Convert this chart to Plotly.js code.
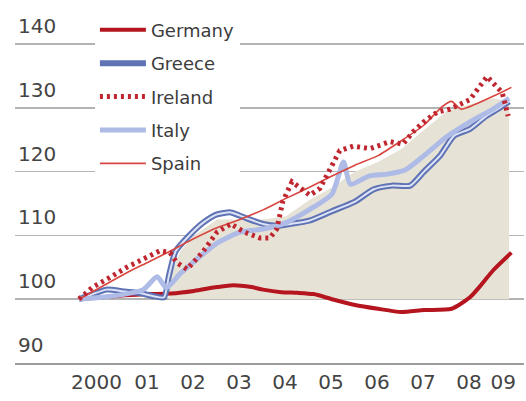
<!DOCTYPE html>
<html>
<head>
<meta charset="utf-8">
<script src="https://cdn.plot.ly/plotly-3.0.1.min.js"></script>
<style>html,body{margin:0;padding:0;background:#fff;}#chart{width:526px;height:401px;}</style>
</head>
<body>
<div id="chart"></div>
<script>
// ---- data (index, 2000 = 100) ----
const germanyX = [2000.0,2000.5,2001.0,2001.5,2002.0,2002.5,2003.0,2003.35,2003.75,2004.0,2004.4,2004.75,2005.1,2005.5,2006.0,2006.5,2007.0,2007.5,2008.1,2008.5,2008.75,2009.0,2009.4];
const germanyY = [100.0,100.3,100.6,100.8,100.9,101.3,101.9,102.2,101.9,101.5,101.1,101.0,100.8,100.0,99.1,98.5,98.0,98.3,98.5,100.3,102.3,104.5,107.3];

const greeceX = [2000.0,2000.3,2000.6,2001.0,2001.3,2001.6,2001.85,2001.95,2002.1,2002.4,2002.7,2003.0,2003.3,2003.6,2004.0,2004.3,2004.6,2005.0,2005.5,2006.0,2006.4,2006.8,2007.2,2007.5,2007.85,2008.15,2008.5,2008.85,2009.1,2009.35];
const greeceY = [100,100.8,101.5,101.2,101.0,100.5,100.3,103.5,107.5,110,112,113.3,113.6,112.8,111.8,111.5,111.8,112.3,113.8,115.3,117.2,117.8,117.8,120,122.5,125.6,126.7,128.7,129.8,131];

const irelandX = [2000.0,2000.3,2000.67,2001.04,2001.54,2001.76,2001.98,2002.13,2002.35,2002.7,2003.0,2003.3,2003.6,2003.93,2004.15,2004.3,2004.43,2004.63,2004.87,2005.02,2005.24,2005.46,2005.67,2005.96,2006.33,2006.76,2007.04,2007.26,2007.48,2007.78,2008.07,2008.5,2008.72,2008.87,2009.0,2009.2,2009.33];
const irelandY = [100,101.9,103.4,105,106.8,107.6,107.3,105.7,104.7,107.5,110.5,111.8,110.5,109.6,109.6,111,115.3,118.4,117.1,116.3,117.4,120.5,123.3,124.0,123.6,124.7,124.3,126.2,127.7,129.3,129.8,131.3,133.3,134.9,133.9,132.4,128.7];

const italyX = [2000.0,2000.5,2001.0,2001.4,2001.7,2001.9,2002.2,2002.6,2003.0,2003.5,2004.0,2004.5,2005.0,2005.5,2005.75,2005.9,2006.3,2006.7,2007.1,2007.5,2008.0,2008.5,2009.0,2009.35];
const italyY = [100,100.3,100.8,101.5,103.5,101.8,104,106.5,108.8,110.5,111,112,114,116.5,121.5,118,119.3,119.6,120.3,122.5,125.5,127.8,129.8,131.5];

const spainX = [2000.0,2000.5,2001.0,2001.5,2002.0,2002.5,2003.0,2003.5,2004.0,2004.5,2005.0,2005.5,2006.0,2006.5,2007.0,2007.5,2007.9,2008.1,2008.3,2008.6,2009.0,2009.4];
const spainY = [100,102,104,105.8,107.6,109.5,111.2,112.5,114,115.8,117.5,119.3,121,122.5,124.8,127.3,130.2,131,129.8,130.5,131.8,133.2];

const shadeX = [2001.95,2002.2,2002.5,2003.0,2003.5,2004.0,2004.5,2005.0,2005.5,2006.0,2006.5,2007.0,2007.5,2008.0,2008.5,2009.0,2009.35];
const shadeTop = [103,107.5,110,112.5,112.5,112.5,113,115.5,117.5,120,121.5,123.5,126.5,129.5,130.5,131.5,131];
const shadeBaseLevel = 100;

const years = [2000,2001,2002,2003,2004,2005,2006,2007,2008,2009];
const yearLabels = ["2000","01","02","03","04","05","06","07","08","09"];
const yTicks = [90,100,110,120,130,140];
const dataEnd = 2009.52;

// ---- styling / layout ----
const FONT = "DejaVu Sans, sans-serif";
const xRange = [1998.609, 2009.674];
const labelPos = years.map((y, i) => i === 0 ? y + 0.38 : (i === years.length - 1 ? y + 0.22 : y + 0.48));

const traces = [
  {x: shadeX, y: shadeX.map(() => shadeBaseLevel), mode: 'lines', line: {width: 0, color: 'rgba(0,0,0,0)'}, showlegend: false, hoverinfo: 'skip'},
  {x: shadeX, y: shadeTop, mode: 'lines', fill: 'tonexty', fillcolor: '#e6e3d6', line: {width: 0, color: 'rgba(0,0,0,0)'}, showlegend: false, hoverinfo: 'skip'},
  {x: germanyX, y: germanyY, name: 'Germany', legendgroup: 'g1', mode: 'lines', line: {color: '#b5151f', width: 4, shape: 'spline', smoothing: 0.6}},
  {x: greeceX, y: greeceY, name: 'Greece', legendgroup: 'g2', mode: 'lines', line: {color: '#5e72b4', width: 6, shape: 'spline', smoothing: 0.6}},
  {x: greeceX, y: greeceY, name: 'Greece', legendgroup: 'g2', showlegend: false, mode: 'lines', line: {color: '#dde3f6', width: 2, shape: 'spline', smoothing: 0.6}},
  {x: italyX, y: italyY, name: 'Italy', legendgroup: 'g4', mode: 'lines', line: {color: '#aebbe6', width: 5, shape: 'spline', smoothing: 0.6}},
  {x: spainX, y: spainY, name: 'Spain', legendgroup: 'g5', mode: 'lines', line: {color: '#d8463f', width: 1.6, shape: 'spline', smoothing: 0.6}},
  {x: irelandX, y: irelandY, name: 'Ireland', legendgroup: 'g3', mode: 'lines', line: {color: '#c0262f', width: 5, dash: '3px,4px'}}
];
// legend order
traces[2].legendrank = 1; traces[3].legendrank = 2; traces[7].legendrank = 3; traces[5].legendrank = 4; traces[6].legendrank = 5;

const layout = {
  width: 526, height: 401,
  margin: {l: 15, r: 2, t: 8, b: 38},
  paper_bgcolor: '#ffffff', plot_bgcolor: '#ffffff',
  font: {family: FONT, color: '#444444'},
  showlegend: true,
  legend: {
    x: 0.157, y: 0.99, xanchor: 'left', yanchor: 'top',
    bgcolor: '#ffffff', borderwidth: 0,
    font: {family: FONT, size: 18, color: '#3c3c3c'},
    itemwidth: 46, traceorder: 'grouped', tracegroupgap: 7
  },
  xaxis: {
    range: xRange, tickmode: 'array', tickvals: labelPos, ticktext: yearLabels,
    ticks: '', showgrid: false, zeroline: false,
    showline: true, linecolor: '#9c9c9c', linewidth: 2,
    tickfont: {family: FONT, size: 20, color: '#444444'}
  },
  xaxis2: {
    overlaying: 'x', anchor: 'y', side: 'bottom', range: xRange,
    tickmode: 'array', tickvals: years, ticks: 'inside', ticklen: 20, tickwidth: 1.5, tickcolor: '#a8a8a8',
    showticklabels: false, showgrid: false, zeroline: false, showline: false
  },
  xaxis3: {
    overlaying: 'x', anchor: 'y', side: 'bottom', range: xRange,
    tickmode: 'array', tickvals: [dataEnd], ticks: 'inside', ticklen: 10, tickwidth: 1.5, tickcolor: '#a8a8a8',
    showticklabels: false, showgrid: false, zeroline: false, showline: false
  },
  yaxis: {
    range: [90, 145.64], tickmode: 'array', tickvals: yTicks,
    ticks: '', showline: false, zeroline: false,
    showgrid: true, gridcolor: '#b3b3b3', gridwidth: 1.6,
    ticklabelposition: 'inside', ticklabelshift: -18,
    tickfont: {family: FONT, size: 20, color: '#444444'}
  }
};

Plotly.newPlot('chart', traces, layout, {displayModeBar: false, staticPlot: true});
</script>
</body>
</html>
